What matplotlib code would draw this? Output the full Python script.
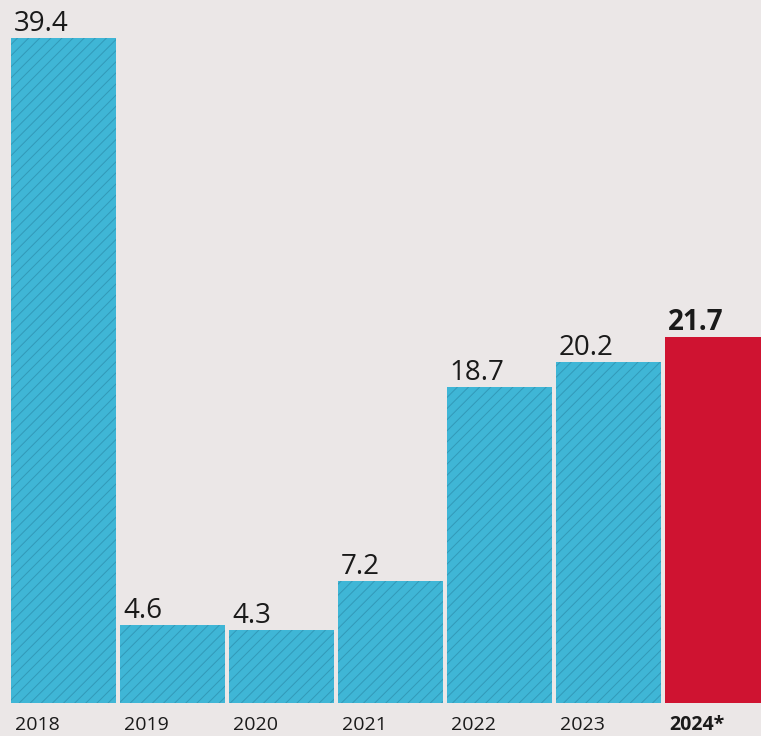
import matplotlib.pyplot as plt
from matplotlib.transforms import offset_copy

years = ['2018', '2019', '2020', '2021', '2022', '2023', '2024*']
values = [39.4, 4.6, 4.3, 7.2, 18.7, 20.2, 21.7]
labels = ['39.4', '4.6', '4.3', '7.2', '18.7', '20.2', '21.7']

bg = '#ebe7e7'
blue = '#3fb6d6'
red = '#cf1331'

plt.rcParams['font.family'] = ['Open Sans', 'DejaVu Sans']
plt.rcParams['hatch.linewidth'] = 0.7

fig = plt.figure(figsize=(7.61, 7.36), dpi=100)
fig.patch.set_facecolor(bg)
ax = fig.add_axes([0, 33 / 736, 1, 703 / 736])
ax.set_facecolor(bg)

x = list(range(len(years)))
colors = [blue] * 6 + [red]
bars = ax.bar(x, values, width=0.965, color=colors, linewidth=0)
for b in bars[:6]:
    b.set_hatch('///')
    b.set_edgecolor('#3299b8')

ax.set_xlim(-63.5 / 109, (761 - 63.5) / 109)
ax.set_ylim(0, 703 / 16.88)

for i, (v, lab) in enumerate(zip(values, labels)):
    left = i - 0.965 / 2
    tr = offset_copy(ax.transData, fig=fig, x=3, y=7, units='dots')
    ax.text(left, v, lab, transform=tr, ha='left', va='baseline',
            fontsize=20, color='#1a1a1a',
            fontweight='bold' if i == 6 else 'normal')
    tr2 = offset_copy(ax.transData, fig=fig, x=4, y=-27, units='dots')
    ax.text(left, 0, years[i], transform=tr2, ha='left', va='baseline',
            fontsize=14, color='#1a1a1a',
            fontweight='bold' if i == 6 else 'normal')

for s in ax.spines.values():
    s.set_visible(False)
ax.set_xticks([])
ax.set_yticks([])

fig.savefig('out.png', dpi=100, facecolor=bg)
